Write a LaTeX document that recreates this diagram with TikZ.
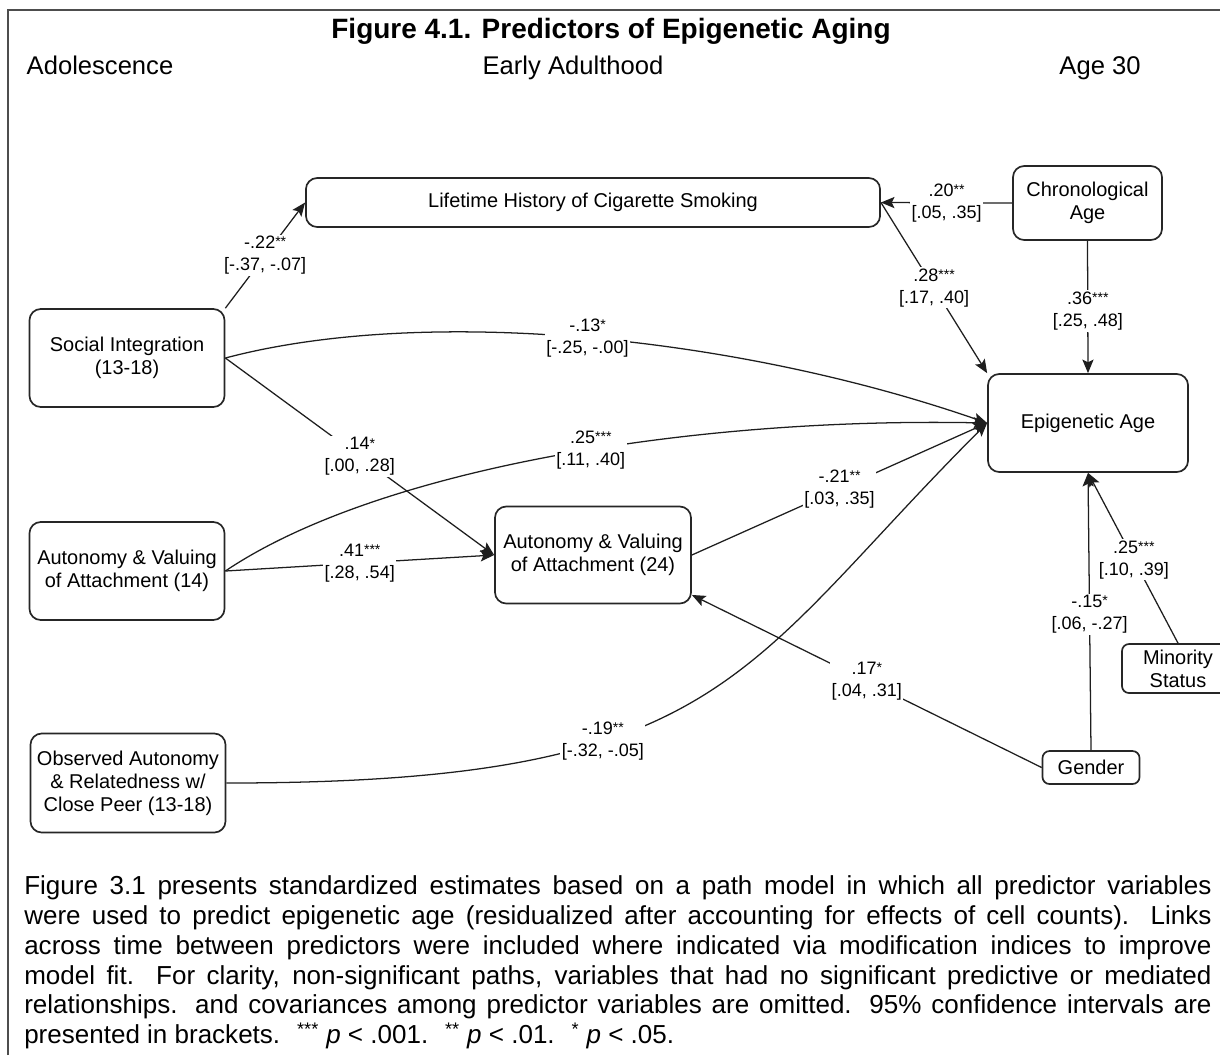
\documentclass[tikz,border=0pt]{standalone}
\usepackage{fontspec}
\setmainfont{Liberation Sans}
\usepackage{xcolor}
\usepackage{tikz}
\usetikzlibrary{arrows.meta,positioning}
\definecolor{framegray}{HTML}{4D4D4D}
\definecolor{boxink}{HTML}{262626}
\definecolor{pathink}{HTML}{1E1E1E}
\newcommand{\sig}[1]{\raisebox{.1em}{\fontsize{10}{10}\selectfont #1}}
\newcommand{\ci}[1]{[#1]}
\tikzset{
  varbox/.style={draw=boxink,line width=1.2pt,rounded corners=8pt,fill=white,align=center,font=\fontsize{14.2}{16.4}\selectfont,text=black,inner sep=2pt},
  smallbox/.style={varbox,rounded corners=5pt},
  pathline/.style={-{Stealth[length=3.4mm,width=2.8mm,inset=0.7mm]},draw=pathink,line width=0.9pt},
  estlabel/.style={fill=white,inner sep=1pt,align=center,font=\fontsize{12.8}{15.6}\selectfont},
  headtext/.style={anchor=base,font=\fontsize{18.2}{20}\selectfont},
}

\begin{document}
\begin{tikzpicture}[x=0.025cm,y=-0.025cm]
    \useasboundingbox (0,0) rectangle (1220,1055);
    \draw[framegray,line width=2pt] (8,1055) -- (8,10) -- (1220,10);
    \node[anchor=base,font=\bfseries\fontsize{19.9}{22}\selectfont] (title) at (611,38) {Figure 4.1. Predictors of Epigenetic Aging};
    \node[headtext] (adol) at (100,74) {Adolescence};
    \node[headtext] (early) at (573,74) {Early Adulthood};
    \node[headtext] (age) at (1100,74) {Age 30};

    \node[varbox,minimum width=14.35cm,minimum height=1.225cm] (smk) at (593,202.5) {Lifetime History of Cigarette Smoking};
    \node[varbox,minimum width=3.725cm,minimum height=1.85cm] (chr) at (1087.5,203) {Chronological\\Age};
    \node[varbox,minimum width=5cm,minimum height=2.45cm] (epi) at (1088,423) {Epigenetic Age};
    \node[varbox,minimum width=4.875cm,minimum height=2.45cm] (soc) at (127,358) {Social Integration\\(13-18)};
    \node[varbox,minimum width=4.875cm,minimum height=2.45cm] (aut14) at (127,571) {Autonomy \& Valuing\\of Attachment (14)};
    \node[varbox,minimum width=4.9cm,minimum height=2.425cm] (aut24) at (593,555) {Autonomy \& Valuing\\of Attachment (24)};
    \node[varbox,minimum width=4.875cm,minimum height=2.475cm] (obs) at (128,783) {Observed Autonomy\\\& Relatedness w/\\Close Peer (13-18)};
    \node[smallbox,minimum width=2.425cm,minimum height=0.825cm] (gen) at (1091,767.5) {Gender};
    \node[smallbox,minimum width=2.8cm,minimum height=1.225cm] (min) at (1178,668.5) {Minority\\Status};

    \draw[pathline] (soc.north east) -- node[estlabel] (l1) {-.22\sig{**}\\\ci{-.37, -.07}} (smk.west);
    \draw[pathline] (chr.west) -- node[estlabel] (l2) {.20\sig{**}\\\ci{.05, .35}} (smk.east);
    \draw[pathline] (smk.east) -- node[estlabel] (l3) {.28\sig{***}\\\ci{.17, .40}} (epi.north west);
    \draw[pathline] (chr.south) -- node[estlabel,pos=.53] (l4) {.36\sig{***}\\\ci{.25, .48}} (epi.north);
    \draw[pathline] (soc.east) .. controls +(200,-53) and +(-250,-87) .. (epi.west) node[estlabel,pos=.5] (l5) {-.13\sig{*}\\\ci{-.25, -.00}};
    \draw[pathline] (aut14.east) .. controls +(150,-101) and +(-300,-6) .. (epi.west) node[estlabel,pos=.55] (l6) {.25\sig{***}\\\ci{.11, .40}};
    \draw[pathline] (soc.east) -- node[estlabel] (l7) {.14\sig{*}\\\ci{.00, .28}} (aut24.west);
    \draw[pathline] (aut14.east) -- node[estlabel] (l8) {.41\sig{***}\\\ci{.28, .54}} (aut24.west);
    \draw[pathline] (aut24.east) -- node[estlabel] (l9) {-.21\sig{**}\\\ci{.03, .35}} (epi.west);
    \draw[pathline] (obs.east) .. controls +(500,0) and +(-250,250) .. (epi.west) node[estlabel,pos=.35] (l10) {-.19\sig{**}\\\ci{-.32, -.05}};
    \draw[pathline] (gen.west) -- node[estlabel] (l11) {.17\sig{*}\\\ci{.04, .31}} (aut24.-22);
    \draw[pathline] (gen.north) -- node[estlabel,pos=.49] (l12) {-.15\sig{*}\\\ci{.06, -.27}} (epi.south);
    \draw[pathline] (min.north) -- node[estlabel,pos=.49] (l13) {.25\sig{***}\\\ci{.10, .39}} (epi.south);

    \node[anchor=north west,text width=29.675cm,align=justify,inner sep=0pt,font=\fontsize{18.5}{21.3}\selectfont] (note) at (24,875) {Figure 3.1 presents standardized estimates based on a path model in which all predictor variables\linebreak
were used to predict epigenetic age (residualized after accounting for effects of cell counts). Links\linebreak
across time between predictors were included where indicated via modification indices to improve\linebreak
model fit. For clarity, non-significant paths, variables that had no significant predictive or mediated\linebreak
relationships. and covariances among predictor variables are omitted. 95\% confidence intervals are\linebreak
presented in brackets.~ \textsuperscript{***} \textit{p} < .001.~ \textsuperscript{**} \textit{p} < .01.~ \textsuperscript{*} \textit{p} < .05.};
  \end{tikzpicture}
\end{document}
